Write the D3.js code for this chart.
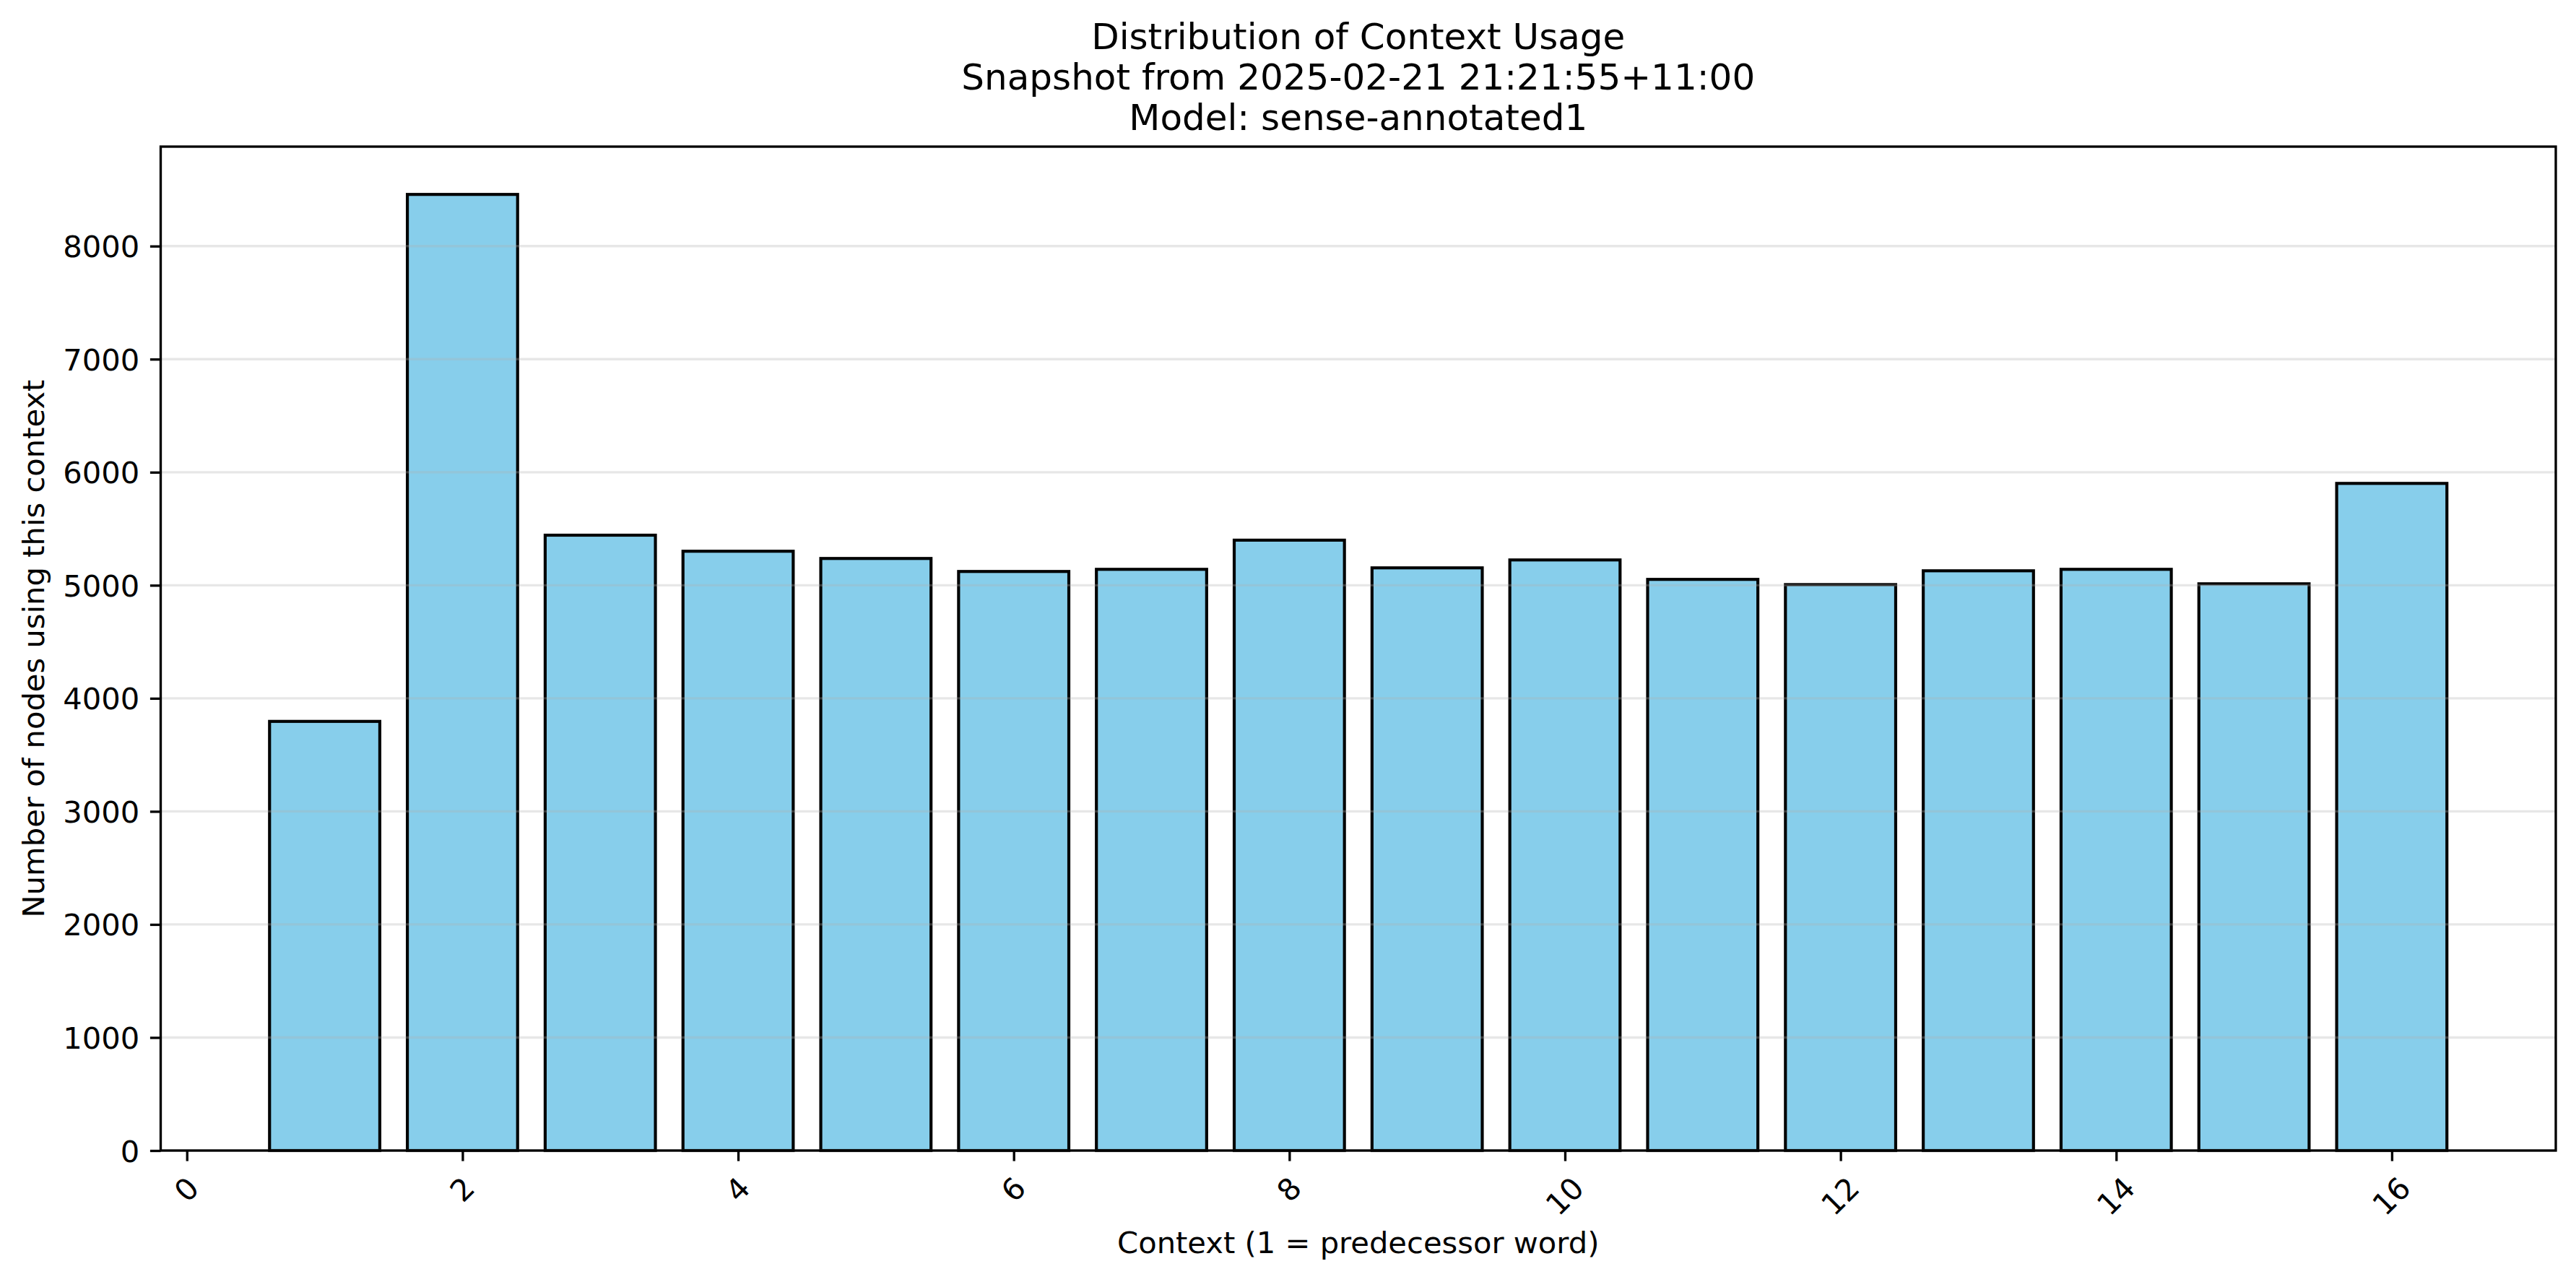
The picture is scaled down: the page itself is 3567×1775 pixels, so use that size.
<!DOCTYPE html>
<html>
<head>
<meta charset="utf-8">
<script src="https://cdn.jsdelivr.net/npm/d3@7"></script>
<style>
  html, body { margin: 0; padding: 0; background: #fff; }
  svg { display: block; }
  text { font-family: "DejaVu Sans", sans-serif; fill: #000; }
</style>
</head>
<body>
<script>
// ---- data ----
const contexts = [1, 2, 3, 4, 5, 6, 7, 8, 9, 10, 11, 12, 13, 14, 15, 16];
const nodeCounts = [3796, 8457, 5443, 5301, 5237, 5122, 5141, 5399, 5154, 5224, 5052, 5006, 5128, 5141, 5013, 5901];
const xTickValues = [0, 2, 4, 6, 8, 10, 12, 14, 16];
const yTickValues = [0, 1000, 2000, 3000, 4000, 5000, 6000, 7000, 8000];
const titleLines = ["Distribution of Context Usage", "Snapshot from 2025-02-21 21:21:55+11:00", "Model: sense-annotated1"];
const xLabel = "Context (1 = predecessor word)";
const yLabel = "Number of nodes using this context";

// ---- layout ----
const W = 3567, H = 1775;
const plot = { left: 222.5, right: 3539, top: 203, bottom: 1593 };
const barWidth = 0.8;
const tickFs = 41.67, labelFs = 41.67, titleFs = 50;
const spineW = 3.33, tickLen = 14.6, tickPad = 14.6;

const svg = d3.select("body").append("svg").attr("width", W).attr("height", H);
svg.append("rect").attr("width", W).attr("height", H).attr("fill", "#fff");

const xMin = d3.min(contexts) - barWidth / 2, xMax = d3.max(contexts) + barWidth / 2;
const xm = (xMax - xMin) * 0.05;
const x = d3.scaleLinear().domain([xMin - xm, xMax + xm]).range([plot.left, plot.right]);
const y = d3.scaleLinear().domain([0, d3.max(nodeCounts) * 1.05]).range([plot.bottom, plot.top]);

// bars
svg.append("g").selectAll("rect").data(contexts).join("rect")
  .attr("x", (d) => x(d - barWidth / 2))
  .attr("width", (d) => x(d + barWidth / 2) - x(d - barWidth / 2))
  .attr("y", (d, i) => y(nodeCounts[i]))
  .attr("height", (d, i) => y(0) - y(nodeCounts[i]))
  .attr("fill", "#87CEEB")
  .attr("stroke", "#000")
  .attr("stroke-width", 4.17);

// grid (y only, drawn above bars like matplotlib)
svg.append("g").selectAll("line").data(yTickValues).join("line")
  .attr("x1", plot.left).attr("x2", plot.right)
  .attr("y1", (d) => y(d)).attr("y2", (d) => y(d))
  .attr("stroke", "#b0b0b0").attr("stroke-opacity", 0.3).attr("stroke-width", spineW);

// spines
svg.append("rect")
  .attr("x", plot.left).attr("y", plot.top)
  .attr("width", plot.right - plot.left).attr("height", plot.bottom - plot.top)
  .attr("fill", "none").attr("stroke", "#000").attr("stroke-width", spineW);

// y axis
const yAxis = d3.axisLeft(y).tickValues(yTickValues).tickFormat(d3.format("d"))
  .tickSize(tickLen).tickPadding(tickPad);
const gy = svg.append("g").attr("transform", `translate(${plot.left},0)`).call(yAxis);
gy.select(".domain").remove();
gy.selectAll(".tick line").attr("stroke", "#000").attr("stroke-width", spineW);
gy.selectAll(".tick text")
  .attr("font-family", "DejaVu Sans").attr("font-size", tickFs)
  .attr("fill", "#000").attr("dy", "0.36em");

// x axis
const xAxis = d3.axisBottom(x).tickValues(xTickValues).tickFormat(d3.format("d"))
  .tickSize(tickLen).tickPadding(tickPad);
const gx = svg.append("g").attr("transform", `translate(0,${plot.bottom})`).call(xAxis);
gx.select(".domain").remove();
gx.selectAll(".tick line").attr("stroke", "#000").attr("stroke-width", spineW);
gx.selectAll(".tick text")
  .attr("font-family", "DejaVu Sans").attr("font-size", tickFs)
  .attr("fill", "#000")
  .attr("text-anchor", "middle")
  .attr("dy", "0.32em")
  .each(function () {
    const t = d3.select(this);
    const w = this.getComputedTextLength();
    const h = 1.1 * tickFs;
    const cy = tickLen + tickPad + (w + h) / (2 * Math.SQRT2);
    t.attr("y", null).attr("transform", `translate(0,${cy}) rotate(-45)`);
  });

// titles
const cx = (plot.left + plot.right) / 2;
const titleBaselines = [68.3, 124.1, 180];
svg.append("g").selectAll("text").data(titleLines).join("text")
  .attr("x", cx).attr("y", (d, i) => titleBaselines[i])
  .attr("text-anchor", "middle").attr("font-size", titleFs)
  .text((d) => d);

// axis labels
svg.append("text").attr("x", cx).attr("y", 1735)
  .attr("text-anchor", "middle").attr("font-size", labelFs).text(xLabel);
svg.append("text")
  .attr("transform", `translate(61,${(plot.top + plot.bottom) / 2}) rotate(-90)`)
  .attr("text-anchor", "middle").attr("font-size", labelFs).text(yLabel);
</script>
</body>
</html>
